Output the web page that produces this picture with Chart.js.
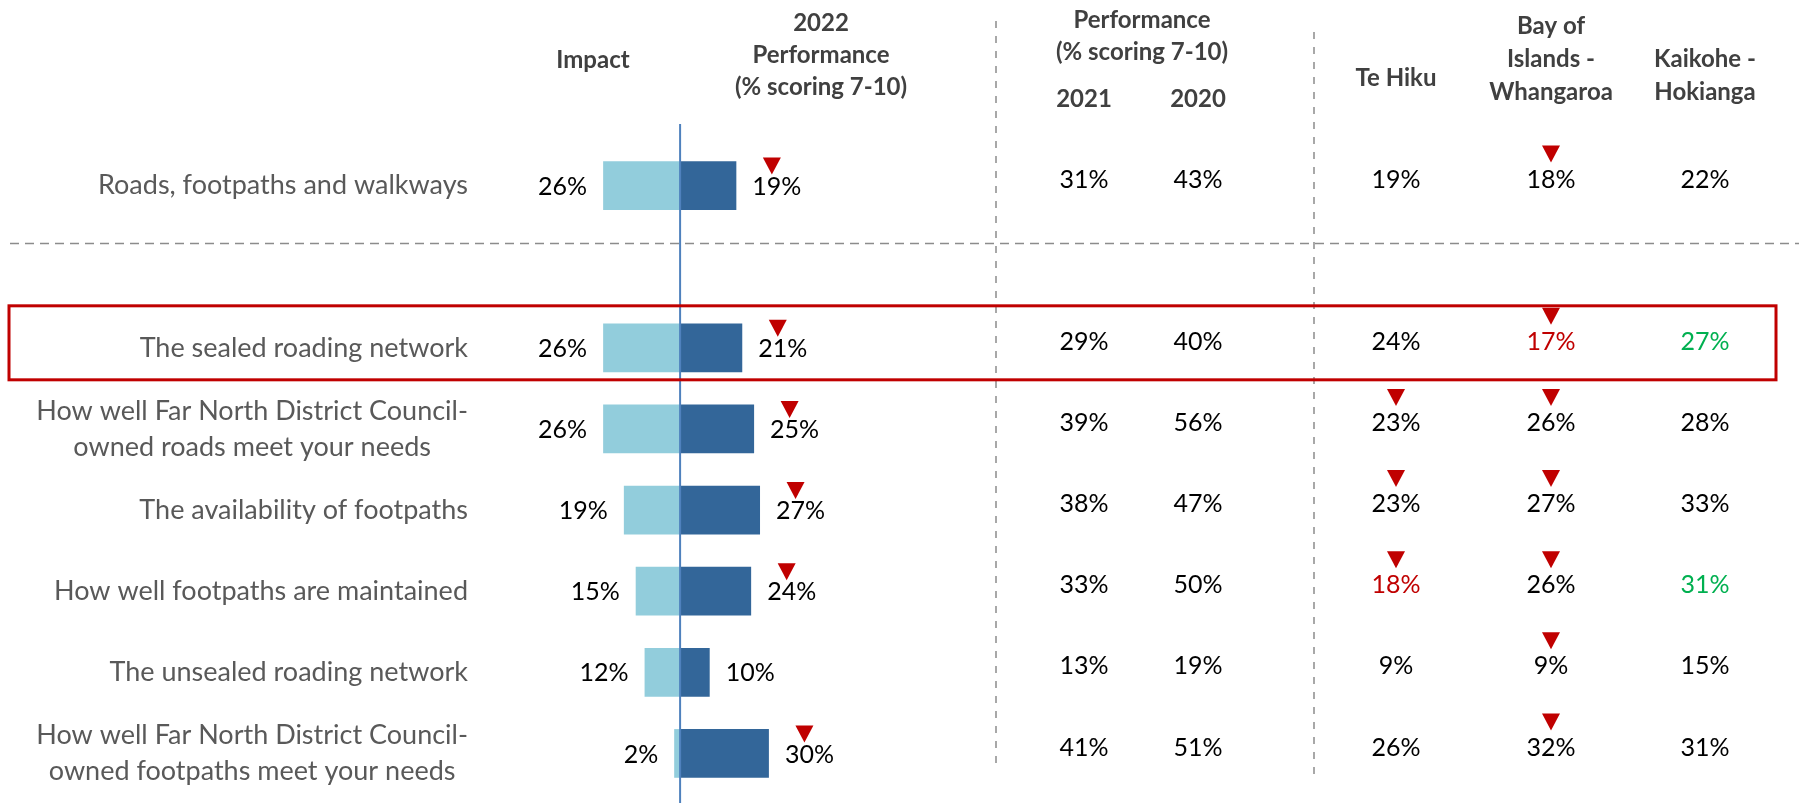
<!DOCTYPE html>
<html lang="en">
<head>
    <meta charset="UTF-8">
    <title>Roads, footpaths and walkways</title>
    <script src="https://cdn.jsdelivr.net/npm/chart.js@4.4.0/dist/chart.umd.min.js"></script>
    <style>
        body {
            margin: 0;
            padding: 0;
            background: #ffffff;
        }
        .chart-box {
            width: 1799px;
            height: 803px;
        }
    </style>
</head>
<body>
    <div class="chart-box">
        <canvas id="impactChart" width="1799" height="803"></canvas>
    </div>

    <script>
        // row labels (second slot is an empty spacer row under the summary line)
        const rowLabels = [
            'Roads, footpaths and walkways',
            '',
            'The sealed roading network',
            ['How well Far North District Council-', 'owned roads meet your needs'],
            'The availability of footpaths',
            'How well footpaths are maintained',
            'The unsealed roading network',
            ['How well Far North District Council-', 'owned footpaths meet your needs']
        ];

        const impact = [26, null, 26, 26, 19, 15, 12, 2];
        const perf2022 = [19, null, 21, 25, 27, 24, 10, 30];
        const perf2022Down = [true, false, true, true, true, true, false, true];

        const perf2021 = [31, null, 29, 39, 38, 33, 13, 41];
        const perf2020 = [43, null, 40, 56, 47, 50, 19, 51];

        const teHiku = [19, null, 24, 23, 23, 18, 9, 26];
        const bayOfIslands = [18, null, 17, 26, 27, 26, 9, 32];
        const kaikohe = [22, null, 27, 28, 33, 31, 15, 31];

        // significance: 'down' = arrow, 'low' = significantly lower, 'high' = significantly higher
        const teHikuSig = ['', '', '', 'down', 'down', 'down low', '', ''];
        const bayOfIslandsSig = ['down', '', 'down low', 'down', 'down', 'down', 'down', 'down'];
        const kaikoheSig = ['', '', 'high', '', '', 'high', '', ''];

        const FONT = 'Lato, "Open Sans", sans-serif';
        const RED = '#C00000';
        const GREEN = '#00B050';

        function pct(v) { return v + '%'; }

        function downArrow(ctx, cx, top) {
            ctx.fillStyle = RED;
            ctx.beginPath();
            ctx.moveTo(cx - 9, top);
            ctx.lineTo(cx + 9, top);
            ctx.lineTo(cx, top + 17);
            ctx.closePath();
            ctx.fill();
        }

        const tablePlugin = {
            id: 'tablePlugin',
            beforeDatasetsDraw(chart) {
                const ctx = chart.ctx;
                const y = chart.scales.y;
                ctx.save();
                ctx.strokeStyle = '#8c8c8c';
                ctx.lineWidth = 1.5;
                ctx.setLineDash([9, 6]);
                // horizontal separator under the summary row
                const sepY = y.getPixelForValue(0) + 58;
                ctx.beginPath();
                ctx.moveTo(10, sepY);
                ctx.lineTo(1799, sepY);
                ctx.stroke();
                // column separators
                ctx.setLineDash([7, 8]);
                ctx.beginPath();
                ctx.moveTo(996, 21);
                ctx.lineTo(996, 769);
                ctx.moveTo(1314, 32);
                ctx.lineTo(1314, 775);
                ctx.stroke();
                ctx.restore();

                // category labels: block right-aligned to the axis, lines centred in the block
                ctx.save();
                ctx.font = '27px ' + FONT;
                ctx.fillStyle = '#595959';
                ctx.textBaseline = 'middle';
                ctx.textAlign = 'center';
                const right = y.right - 12;
                const lh = 36;
                rowLabels.forEach((lab, i) => {
                    const lines = Array.isArray(lab) ? lab : [lab];
                    const w = Math.max(...lines.map(t => ctx.measureText(t).width));
                    const cy = y.getPixelForValue(i);
                    lines.forEach((t, k) => {
                        ctx.fillText(t, right - w / 2, cy + (k - (lines.length - 1) / 2) * lh);
                    });
                });
                ctx.restore();
            },
            afterDatasetsDraw(chart) {
                const ctx = chart.ctx;
                const x = chart.scales.x;
                const y = chart.scales.y;
                ctx.save();

                // zero line
                const zx = x.getPixelForValue(0);
                ctx.strokeStyle = '#4F81BD';
                ctx.lineWidth = 2;
                ctx.beginPath();
                ctx.moveTo(zx, 124);
                ctx.lineTo(zx, 803);
                ctx.stroke();

                // bar labels
                ctx.font = '25px ' + FONT;
                ctx.textBaseline = 'middle';
                impact.forEach((v, i) => {
                    if (v == null) return;
                    const cy = y.getPixelForValue(i) + 1;
                    ctx.fillStyle = '#000000';
                    ctx.textAlign = 'right';
                    ctx.fillText(pct(v), x.getPixelForValue(-v) - 16, cy);
                    const px = x.getPixelForValue(perf2022[i]) + 16;
                    ctx.textAlign = 'left';
                    ctx.fillText(pct(perf2022[i]), px, cy);
                    if (perf2022Down[i]) {
                        const w = ctx.measureText(pct(perf2022[i])).width;
                        downArrow(ctx, px + w / 2 - 5, cy - 29);
                    }
                });

                // table columns
                const columns = [
                    { cx: 1084, values: perf2021, sig: null },
                    { cx: 1198, values: perf2020, sig: null },
                    { cx: 1396, values: teHiku, sig: teHikuSig },
                    { cx: 1551, values: bayOfIslands, sig: bayOfIslandsSig },
                    { cx: 1705, values: kaikohe, sig: kaikoheSig }
                ];
                ctx.textAlign = 'center';
                columns.forEach(col => {
                    col.values.forEach((v, i) => {
                        if (v == null) return;
                        const cy = y.getPixelForValue(i) - 6;
                        const s = col.sig ? col.sig[i] : '';
                        ctx.fillStyle = s.includes('low') ? RED : (s.includes('high') ? GREEN : '#000000');
                        ctx.font = '25px ' + FONT;
                        ctx.fillText(pct(v), col.cx, cy);
                        if (s.includes('down')) downArrow(ctx, col.cx, cy - 34);
                    });
                });

                // headers
                const headers = [
                    { cx: 593, lines: ['Impact'], ys: [60] },
                    { cx: 821, lines: ['2022', 'Performance', '(% scoring 7-10)'], ys: [23, 55, 87] },
                    { cx: 1142, lines: ['Performance', '(% scoring 7-10)'], ys: [20, 52] },
                    { cx: 1084, lines: ['2021'], ys: [99] },
                    { cx: 1198, lines: ['2020'], ys: [99] },
                    { cx: 1396, lines: ['Te Hiku'], ys: [78] },
                    { cx: 1551, lines: ['Bay of', 'Islands -', 'Whangaroa'], ys: [26, 59, 92] },
                    { cx: 1705, lines: ['Kaikohe -', 'Hokianga'], ys: [59, 92] }
                ];
                ctx.font = 'bold 24px ' + FONT;
                ctx.fillStyle = '#404040';
                headers.forEach(h => {
                    h.lines.forEach((t, k) => ctx.fillText(t, h.cx, h.ys[k]));
                });

                // highlight box round the sealed roading network row
                const by = y.getPixelForValue(2);
                ctx.strokeStyle = RED;
                ctx.lineWidth = 3;
                ctx.strokeRect(9, by - 42, 1767, 74);

                ctx.restore();
            }
        };

        const ctx = document.getElementById('impactChart').getContext('2d');
        new Chart(ctx, {
            type: 'bar',
            data: {
                labels: rowLabels,
                datasets: [
                    {
                        label: 'Impact',
                        data: impact.map(v => v == null ? null : -v),
                        backgroundColor: '#92CDDC',
                        borderWidth: 0
                    },
                    {
                        label: '2022 Performance',
                        data: perf2022,
                        backgroundColor: '#336699',
                        borderWidth: 0
                    }
                ]
            },
            options: {
                indexAxis: 'y',
                responsive: false,
                animation: false,
                categoryPercentage: 1,
                barPercentage: 0.6,
                layout: {
                    padding: { top: 145, bottom: 9, left: 0, right: 0 }
                },
                plugins: {
                    legend: { display: false },
                    tooltip: { enabled: false }
                },
                scales: {
                    x: {
                        type: 'linear',
                        stacked: true,
                        display: false,
                        min: -67.6,
                        max: 378
                    },
                    y: {
                        stacked: true,
                        grid: { display: false, drawTicks: false },
                        border: { display: false },
                        ticks: { display: false },
                        afterFit(scale) {
                            scale.width = 480;
                            scale.paddingTop = 0;
                            scale.paddingBottom = 0;
                        }
                    }
                }
            },
            plugins: [tablePlugin]
        });
    </script>
</body>
</html>
